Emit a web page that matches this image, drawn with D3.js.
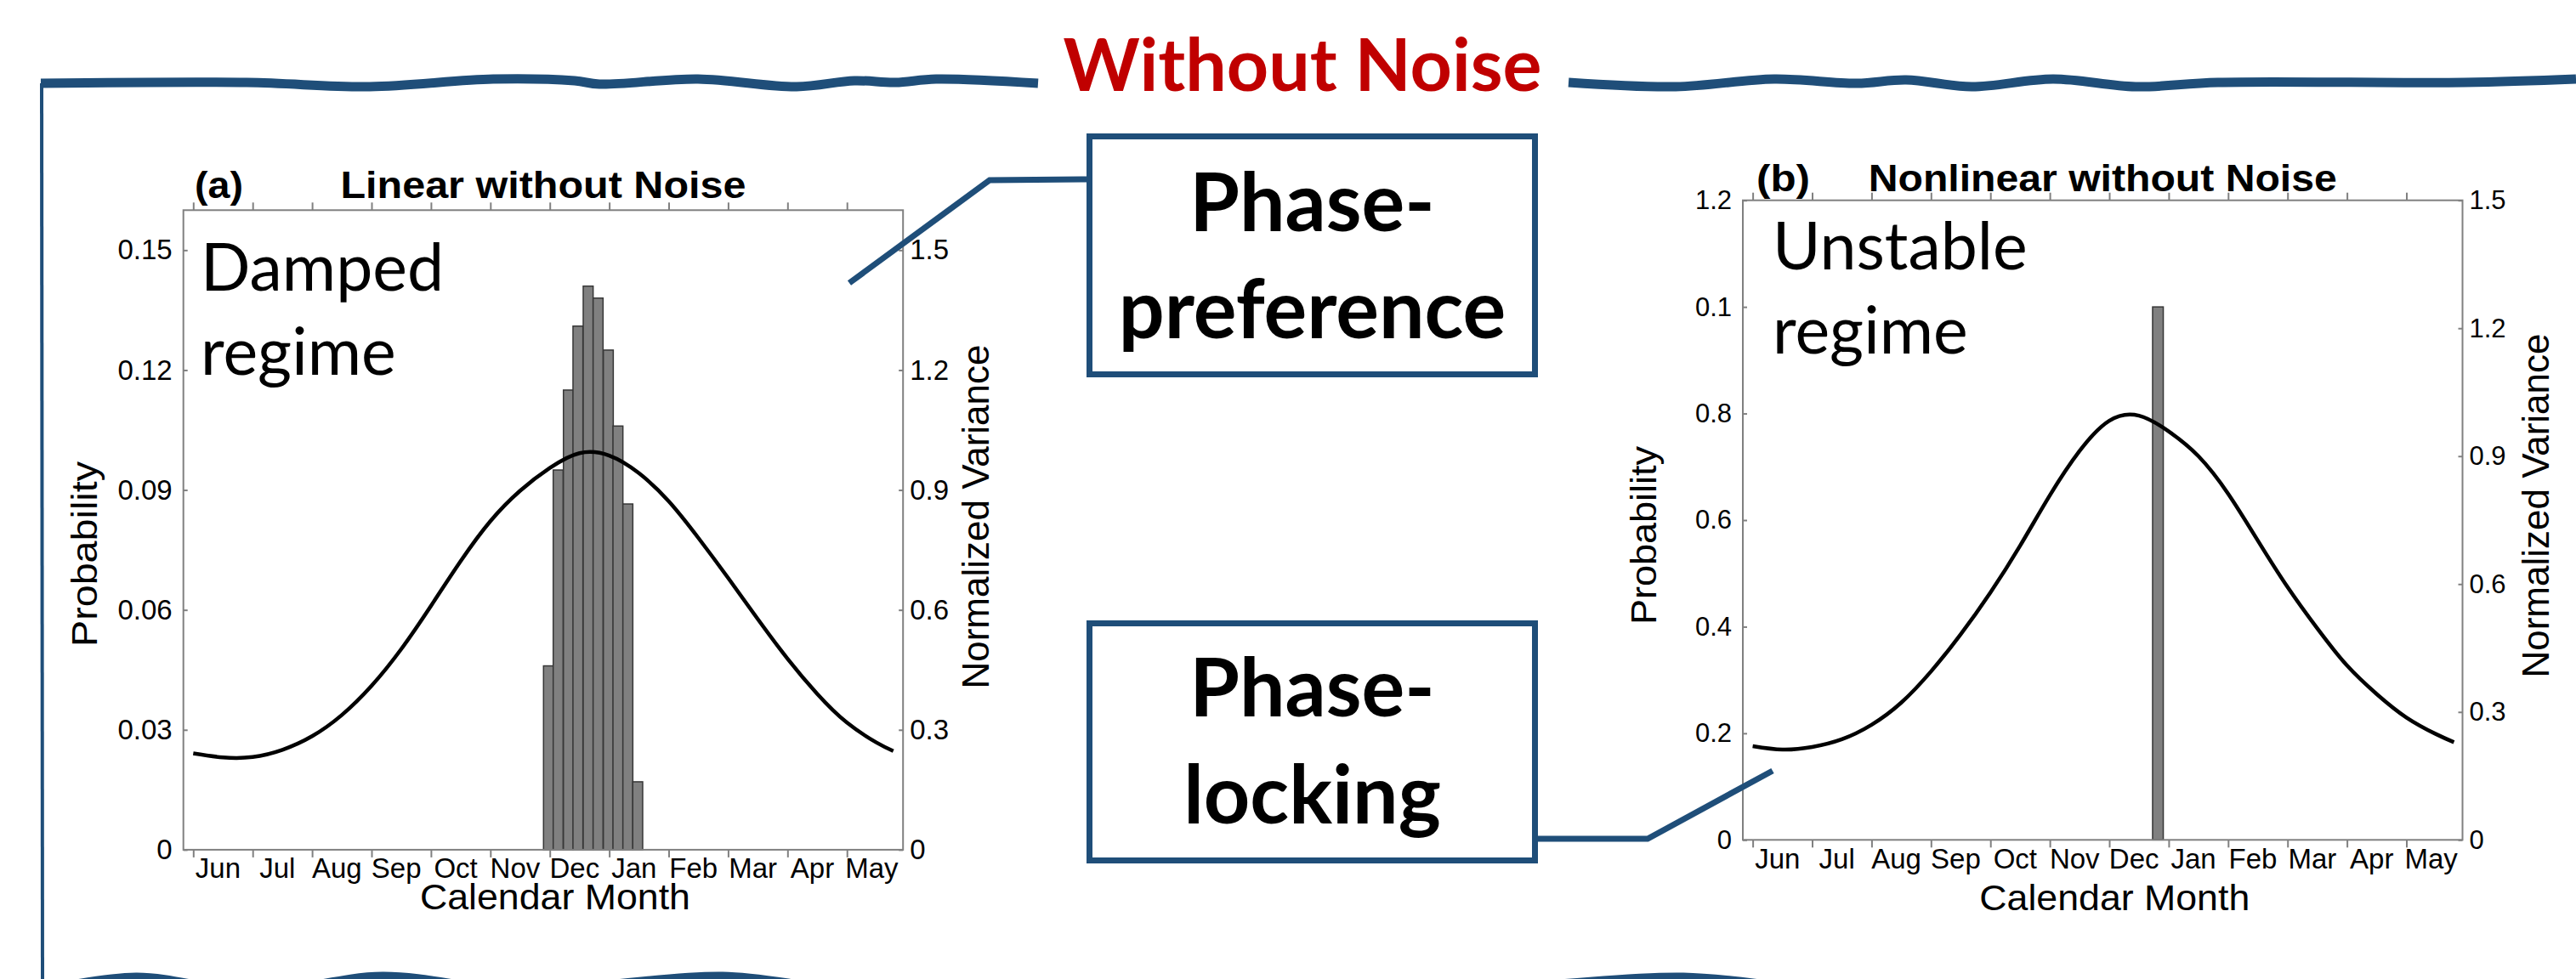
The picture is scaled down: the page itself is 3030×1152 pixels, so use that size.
<!DOCTYPE html>
<html>
<head>
<meta charset="utf-8">
<script src="https://cdn.jsdelivr.net/npm/d3@7"></script>
<style>
body { margin: 0; background: #fff; }
svg { display: block; background: #fff; }
</style>
</head>
<body>
<svg id="svg1" width="3030" height="1152"></svg>
<script>
// x axis: calendar months, Jun -> May
var months = ["Jun", "Jul", "Aug", "Sep", "Oct", "Nov", "Dec", "Jan", "Feb", "Mar", "Apr", "May"];

// (a) linear without noise: histogram (left axis) + normalized variance (right axis)
var binStartA = [5.894, 6.057, 6.229, 6.390, 6.562, 6.729, 6.901, 7.063, 7.230, 7.396];
var binWidthA = 0.167;
var probA = [0.046, 0.095, 0.115, 0.131, 0.141, 0.138, 0.125, 0.106, 0.0865, 0.017];
var varMonthA = [0, 0.5, 1, 1.5, 2, 2.5, 3, 3.5, 4, 4.5, 5, 5.5, 6, 6.5, 7, 7.5, 8, 8.5, 9, 9.5, 10, 10.5, 11, 11.5, 11.78];
var varA = [0.241, 0.231, 0.232, 0.250, 0.284, 0.337, 0.410, 0.502, 0.610, 0.722, 0.822, 0.898, 0.955, 0.992,
    0.986, 0.942, 0.872, 0.780, 0.680, 0.577, 0.478, 0.390, 0.318, 0.268, 0.247];
var probTicksA = [0, 0.03, 0.06, 0.09, 0.12, 0.15];
var probLabelsA = ["0", "0.03", "0.06", "0.09", "0.12", "0.15"];
var varTicksA = [0, 0.3, 0.6, 0.9, 1.2, 1.5];

// (b) nonlinear without noise
var binStartB = [6.729];
var binWidthB = 0.18;
var probB = [1.0];
var varMonthB = [0, 0.5, 1, 1.5, 2, 2.5, 3, 3.5, 4, 4.5, 5, 5.5, 6, 6.5, 7, 7.5, 8, 8.5, 9, 9.5, 10, 10.5, 11, 11.5, 11.8];
var varB = [0.220, 0.212, 0.218, 0.236, 0.270, 0.322, 0.395, 0.482, 0.580, 0.690, 0.808, 0.912, 0.983, 0.995,
    0.958, 0.900, 0.812, 0.702, 0.593, 0.496, 0.409, 0.342, 0.287, 0.248, 0.229];
var probTicksB = [0, 0.2, 0.4, 0.6, 0.8, 1.0, 1.2];
var probLabelsB = ["0", "0.2", "0.4", "0.6", "0.8", "0.1", "1.2"]; // printed like this in the original
var varTicksB = [0, 0.3, 0.6, 0.9, 1.2, 1.5];

var blue = "#1f4e79";
var axisFont = "'Liberation Sans', Arial, sans-serif";

var svg = d3.select("#svg1");

// text helper (len = stretch to a fixed width, like the original picture)
function addText(parent, str, x, y, size, opt) {
    opt = opt || {};
    var t = parent.append("text")
        .attr("x", x).attr("y", y)
        .attr("font-size", size)
        .attr("font-family", opt.family || axisFont)
        .attr("font-weight", opt.weight || "normal")
        .attr("text-anchor", opt.anchor || "start")
        .attr("fill", opt.fill || "#000")
        .text(str);
    if (opt.rotate) t.attr("transform", "rotate(" + opt.rotate + "," + x + "," + y + ")");
    if (opt.len) t.attr("textLength", opt.len).attr("lengthAdjust", "spacingAndGlyphs");
    return t;
}

function styleAxis(sel, size) {
    sel.select(".domain").remove();
    sel.selectAll("line").attr("stroke", "#808080").attr("stroke-width", 2);
    sel.selectAll("text").attr("font-size", size).attr("font-family", axisFont).attr("fill", "#000");
}

function drawPanel(p) {
    var g = svg.append("g");
    var bottom = p.top + p.height;

    var x = d3.scaleLinear().domain([-0.166, 11.944]).range([p.left, p.left + p.width]);
    var y = d3.scaleLinear().domain([0, p.probMax]).range([bottom, p.top]);
    var y2 = d3.scaleLinear().domain([0, p.varMax]).range([bottom, p.top]);

    // histogram
    g.selectAll("rect.bar")
        .data(p.prob)
        .enter().append("rect")
        .attr("class", "bar")
        .attr("x", function(d, i) { return x(p.binStart[i]); })
        .attr("width", function(d, i) { return x(p.binStart[i] + p.binWidth) - x(p.binStart[i]); })
        .attr("y", function(d) { return y(d); })
        .attr("height", function(d) { return y(0) - y(d); })
        .attr("fill", "#808080")
        .attr("stroke", "#363636")
        .attr("stroke-width", 1.5);

    // normalized variance curve
    var line = d3.line()
        .x(function(d) { return x(d[0]); })
        .y(function(d) { return y2(d[1]); })
        .curve(d3.curveNatural);
    g.append("path")
        .datum(d3.zip(p.varMonth, p.varVal))
        .attr("d", line)
        .attr("fill", "none")
        .attr("stroke", "#000")
        .attr("stroke-width", 4.5);

    // box
    g.append("rect")
        .attr("x", p.left).attr("y", p.top)
        .attr("width", p.width).attr("height", p.height)
        .attr("fill", "none").attr("stroke", "#808080").attr("stroke-width", 2);

    // month ticks top and bottom (outward)
    g.append("g").attr("transform", "translate(0," + bottom + ")")
        .call(d3.axisBottom(x).tickValues(d3.range(12)).tickSize(9).tickFormat(""))
        .call(styleAxis, p.tickSize);
    g.append("g").attr("transform", "translate(0," + p.top + ")")
        .call(d3.axisTop(x).tickValues(d3.range(12)).tickSize(9).tickFormat(""))
        .call(styleAxis, p.tickSize);

    // month labels
    g.append("g").attr("transform", "translate(0," + bottom + ")")
        .call(d3.axisBottom(x)
            .tickValues(months.map(function(m, i) { return i + 0.41; }))
            .tickSize(0).tickPadding(10)
            .tickFormat(function(d, i) { return months[i]; }))
        .call(styleAxis, p.monthSize);

    // left probability axis (inward ticks)
    g.append("g").attr("transform", "translate(" + p.left + ",0)")
        .call(d3.axisLeft(y).tickValues(p.probTicks).tickSize(-5).tickPadding(13)
            .tickFormat(function(d, i) { return p.probLabels[i]; }))
        .call(styleAxis, p.tickSize);

    // right variance axis (inward ticks)
    g.append("g").attr("transform", "translate(" + (p.left + p.width) + ",0)")
        .call(d3.axisRight(y2).tickValues(p.varTicks).tickSize(-5).tickPadding(8)
            .tickFormat(function(d) { return String(d); }))
        .call(styleAxis, p.tickSize);

    // titles and axis labels
    addText(g, p.tag, p.tagX, p.titleY, 45, {weight: "bold", len: p.tagLen});
    addText(g, p.title, p.left + p.width / 2, p.titleY, 45, {weight: "bold", anchor: "middle", len: p.titleLen});
    addText(g, "Calendar Month", p.left + p.width / 2 + 14, p.xLabelY, 42, {anchor: "middle", len: 318});
    addText(g, "Probability", p.probLabelX, p.probLabelY, 42, {anchor: "middle", rotate: -90, len: p.probLabelLen});
    addText(g, "Normalized Variance", p.varLabelX, p.varLabelY, 44, {anchor: "middle", rotate: -90, len: 405});

    // regime note inside the axes
    addText(g, p.note[0], p.noteX, p.noteY, 77, {family: "Lato"});
    addText(g, p.note[1], p.noteX, p.noteY + 99, 77, {family: "Lato"});
}

drawPanel({
    left: 215.7, top: 247.3, width: 846.5, height: 752.6,
    probMax: 0.16, varMax: 1.6,
    binStart: binStartA, binWidth: binWidthA, prob: probA,
    varMonth: varMonthA, varVal: varA,
    probTicks: probTicksA, probLabels: probLabelsA, varTicks: varTicksA,
    tickSize: 33, monthSize: 33,
    tag: "(a)", tagX: 229, tagLen: 57, title: "Linear without Noise", titleLen: 477, titleY: 233,
    xLabelY: 1070,
    probLabelX: 114, probLabelY: 652, probLabelLen: 218,
    varLabelX: 1163, varLabelY: 608,
    note: ["Damped", "regime"], noteX: 236, noteY: 342
});

drawPanel({
    left: 2050, top: 235.7, width: 846.5, height: 752.6,
    probMax: 1.2, varMax: 1.5,
    binStart: binStartB, binWidth: binWidthB, prob: probB,
    varMonth: varMonthB, varVal: varB,
    probTicks: probTicksB, probLabels: probLabelsB, varTicks: varTicksB,
    tickSize: 31, monthSize: 33,
    tag: "(b)", tagX: 2066, tagLen: 63, title: "Nonlinear without Noise", titleLen: 551, titleY: 225,
    xLabelY: 1071,
    probLabelX: 1948, probLabelY: 630, probLabelLen: 210,
    varLabelX: 2998, varLabelY: 595,
    note: ["Unstable", "regime"], noteX: 2085, noteY: 317
});

// callout boxes with connectors
var callouts = [
    {lines: ["Phase-", "preference"], box: [1278, 157, 531, 287], base: [272, 398],
     path: [[999, 333], [1164, 212], [1278, 211]]},
    {lines: ["Phase-", "locking"], box: [1278, 730, 531, 286], base: [843, 969],
     path: [[1809, 987], [1938, 987], [2085, 907]]}
];

callouts.forEach(function(c) {
    svg.append("path")
        .attr("d", d3.line()(c.path))
        .attr("fill", "none").attr("stroke", blue).attr("stroke-width", 7);
    svg.append("rect")
        .attr("x", c.box[0] + 3.5).attr("y", c.box[1] + 3.5)
        .attr("width", c.box[2] - 7).attr("height", c.box[3] - 7)
        .attr("fill", "#fff").attr("stroke", blue).attr("stroke-width", 7);
    c.lines.forEach(function(s, i) {
        addText(svg, s, c.box[0] + c.box[2] / 2, c.base[i], 95, {family: "Lato", weight: "bold", anchor: "middle"});
    });
});

// hand drawn frame round the figure
var waveLeft = [[48, 98], [290, 97], [435, 102], [580, 93], [676, 95], [705, 99], [821, 93], [937, 102],
    [1005, 95], [1053, 97], [1101, 93], [1221, 98]];
var waveRight = [[1845, 97], [1971, 102], [2087, 93], [2184, 98], [2242, 94], [2319, 102], [2415, 93],
    [2512, 102], [2609, 97], [2899, 97], [3030, 93]];
var waveBottom = [[48, 1166], [160, 1150], [300, 1168], [450, 1149], [600, 1166], [700, 1160], [850, 1149],
    [1000, 1165], [1150, 1158], [1300, 1166], [1450, 1158], [1600, 1166], [1800, 1160], [1980, 1150],
    [2150, 1166], [2400, 1170], [2700, 1168], [3030, 1170]];

var wave = d3.line().curve(d3.curveCatmullRom.alpha(0.5));
[waveLeft, waveRight, waveBottom].forEach(function(w) {
    svg.append("path")
        .attr("d", wave(w))
        .attr("fill", "none").attr("stroke", blue)
        .attr("stroke-width", 11).attr("stroke-linecap", "butt");
});
svg.append("line")
    .attr("x1", 49).attr("y1", 98).attr("x2", 50).attr("y2", 1152)
    .attr("stroke", blue).attr("stroke-width", 4);

addText(svg, "Without Noise", 1532, 107, 86, {family: "Lato", weight: "bold", anchor: "middle", fill: "#c00000"});
</script>
</body>
</html>
